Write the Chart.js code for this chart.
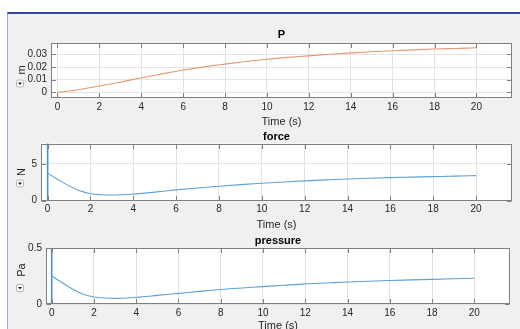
<!DOCTYPE html>
<html><head><meta charset="utf-8">
<script src="https://cdn.jsdelivr.net/npm/chart.js@4/dist/chart.umd.min.js"></script>
<style>
html,body{margin:0;padding:0;width:520px;height:329px;overflow:hidden;background:#fff;}
#panel{position:absolute;left:7px;top:12px;width:513px;height:330px;background:#f0f0f0;border-top:2px solid #34449a;border-left:1px solid #a3a9dc;}
canvas{position:absolute;left:0;top:0;}
</style></head><body>
<div id="panel"></div>
<canvas id="c1" width="520" height="360"></canvas>
<canvas id="c2" width="520" height="360"></canvas>
<canvas id="c3" width="520" height="360"></canvas>
<script>
// ---- data ----
const xTicks = [0, 2, 4, 6, 8, 10, 12, 14, 16, 18, 20];

const timeP = [0, 1, 2, 3, 4, 5, 6, 7, 8, 9, 10, 11, 12, 13, 14, 15, 16, 17, 18, 19, 20];
const posP  = [0, 0.002, 0.005, 0.008, 0.0115, 0.0146, 0.0176, 0.0201, 0.0223, 0.0244, 0.0262, 0.0276, 0.0288, 0.0301, 0.0312, 0.0321, 0.0329, 0.0336, 0.0342, 0.0347, 0.0352];
const yTicksP = [0, 0.01, 0.02, 0.03];

// initial transient at t = 0 (vertical spike off the scale)
const spikeTime = [0, 0];
const forceSpike = [0, 60];
const pressureSpike = [0, 4];

const timeF = [0, 0.5, 1, 1.5, 2, 2.5, 3, 4, 5, 6, 7, 8, 9, 10, 11, 12, 13, 14, 15, 16, 17, 18, 19, 20];
const force = [3.73, 2.85, 2.0, 1.32, 0.93, 0.79, 0.75, 0.88, 1.15, 1.45, 1.72, 1.96, 2.17, 2.36, 2.53, 2.68, 2.82, 2.95, 3.05, 3.13, 3.2, 3.27, 3.34, 3.4];
const yTicksF = [0, 5];

const timePr = [0, 0.5, 1, 1.5, 2, 2.5, 3, 4, 5, 6, 7, 8, 9, 10, 11, 12, 13, 14, 15, 16, 17, 18, 19, 20];
const pressure = [0.25, 0.19, 0.132, 0.087, 0.063, 0.053, 0.05, 0.06, 0.077, 0.095, 0.113, 0.13, 0.143, 0.155, 0.168, 0.18, 0.188, 0.196, 0.203, 0.21, 0.215, 0.22, 0.225, 0.23];
const yTicksPr = [0, 0.5];

// ---- drawing ----
const FONT = "'Liberation Sans', Arial, Helvetica, sans-serif";
const CANVAS_H = 360;

const matlabAxes = {
  id: 'matlabAxes',
  beforeDraw(chart) {
    const {ctx, chartArea: a} = chart;
    ctx.save();
    ctx.fillStyle = '#ffffff';
    ctx.fillRect(a.left, a.top, a.right - a.left, a.bottom - a.top);
    ctx.restore();
  },
  afterDraw(chart, args, o) {
    const {ctx, chartArea: a, scales: {x, y}} = chart;
    const L = Math.round(a.left) + 0.5, R = Math.round(a.right) - 0.5;
    const T = Math.round(a.top) + 0.5, B = Math.round(a.bottom) - 0.5;
    ctx.save();
    ctx.strokeStyle = '#808080';
    ctx.lineWidth = 1;
    ctx.strokeRect(L, T, R - L, B - T);
    ctx.beginPath();
    x.ticks.forEach(t => {
      const px = Math.round(x.getPixelForValue(t.value)) + 0.5;
      ctx.moveTo(px, B); ctx.lineTo(px, B - 4.5);
      ctx.moveTo(px, T); ctx.lineTo(px, T + 4.5);
    });
    y.ticks.forEach(t => {
      const py = Math.round(y.getPixelForValue(t.value)) + 0.5;
      ctx.moveTo(L, py); ctx.lineTo(L + 4.5, py);
      ctx.moveTo(R, py); ctx.lineTo(R - 4.5, py);
    });
    ctx.stroke();
    // y label
    ctx.translate(21.5, o.labelY);
    ctx.rotate(-Math.PI / 2);
    ctx.fillStyle = '#262626';
    ctx.font = '11px ' + FONT;
    ctx.textAlign = 'center';
    ctx.textBaseline = 'middle';
    ctx.fillText(o.label, 0, 0);
    ctx.restore();
    // dropdown icon
    ctx.save();
    const ix = 16.5, iy = o.iconY - 3.5;
    ctx.fillStyle = '#ffffff';
    ctx.strokeStyle = '#b5b5b5';
    ctx.beginPath();
    ctx.roundRect(ix, iy, 7, 7, 1.5);
    ctx.fill(); ctx.stroke();
    ctx.fillStyle = '#1a1a1a';
    ctx.beginPath();
    ctx.moveTo(ix + 1.5, iy + 2.5); ctx.lineTo(ix + 5.5, iy + 2.5); ctx.lineTo(ix + 3.5, iy + 5);
    ctx.closePath(); ctx.fill();
    ctx.restore();
  }
};

function makeChart(id, c) {
  const titleLH = 13.2;
  const xAxisH = c.xTitleCenter + titleLH / 2 - c.B;
  const datasets = [{
    data: c.t.map((tv, i) => ({x: tv, y: c.v[i]})),
    borderColor: c.color,
    borderWidth: 1.1,
    pointRadius: 0,
    cubicInterpolationMode: 'monotone',
    fill: false
  }];
  if (c.st) {
    datasets.push({
      data: c.st.map((tv, i) => ({x: tv, y: c.sv[i]})),
      borderColor: c.spikeColor,
      borderWidth: 1.6,
      pointRadius: 0,
      tension: 0,
      fill: false
    });
  }
  return new Chart(document.getElementById(id), {
    type: 'line',
    data: {datasets},
    options: {
      responsive: false,
      animation: false,
      events: [],
      layout: {padding: {left: 0, right: 520 - c.R, top: c.titleCenter - titleLH / 2, bottom: CANVAS_H - c.B - xAxisH}},
      plugins: {
        legend: {display: false},
        tooltip: {enabled: false},
        title: {
          display: true, text: c.title, fullSize: false, color: '#000',
          font: {family: FONT, size: 11, weight: 'bold', lineHeight: 1.2},
          padding: {top: 0, bottom: c.T - c.titleCenter - titleLH / 2}
        },
        matlabAxes: {label: c.label, labelY: c.labelY, iconY: c.iconY}
      },
      scales: {
        x: {
          type: 'linear', min: c.xMin, max: c.xMax,
          afterBuildTicks: s => { s.ticks = xTicks.map(v => ({value: v})); },
          afterFit: s => { s.height = xAxisH; },
          grid: {color: '#e3e3e3', drawTicks: false},
          border: {display: false},
          ticks: {color: '#262626', font: {family: FONT, size: 10}, padding: 3, maxRotation: 0},
          title: {display: true, text: 'Time (s)', color: '#262626', font: {family: FONT, size: 11, lineHeight: 1.2}, padding: 0}
        },
        y: {
          type: 'linear', min: c.yMin, max: c.yMax,
          afterBuildTicks: s => { s.ticks = c.yTicks.map(v => ({value: v})); },
          afterFit: s => { s.width = c.L; },
          grid: {color: '#e3e3e3', drawTicks: false},
          border: {display: false},
          ticks: {color: '#262626', font: {family: FONT, size: 10}, padding: 4}
        }
      }
    },
    plugins: [matlabAxes]
  });
}

makeChart('c1', {t: timeP, v: posP, color: '#e39a72', title: 'P', label: 'm',
  yMin: -0.0045, yMax: 0.039, yTicks: yTicksP, xMin: -0.31, xMax: 21.7,
  L: 51, R: 512, T: 43, B: 98, titleCenter: 35, xTitleCenter: 122, labelY: 70, iconY: 83.5});
makeChart('c2', {t: timeF, v: force, st: spikeTime, sv: forceSpike, color: '#5fa3d6', spikeColor: '#4a94cc',
  title: 'force', label: 'N',
  yMin: 0, yMax: 7.8, yTicks: yTicksF, xMin: -0.31, xMax: 21.68,
  L: 41, R: 512, T: 143.5, B: 200.5, titleCenter: 137, xTitleCenter: 225, labelY: 172, iconY: 183.5});
makeChart('c3', {t: timePr, v: pressure, st: spikeTime, sv: pressureSpike, color: '#5fa3d6', spikeColor: '#4a94cc',
  title: 'pressure', label: 'Pa',
  yMin: 0, yMax: 0.5, yTicks: yTicksPr, xMin: -0.27, xMax: 21.69,
  L: 46, R: 510, T: 248, B: 304, titleCenter: 240.5, xTitleCenter: 326, labelY: 270, iconY: 288});
</script>
</body></html>
